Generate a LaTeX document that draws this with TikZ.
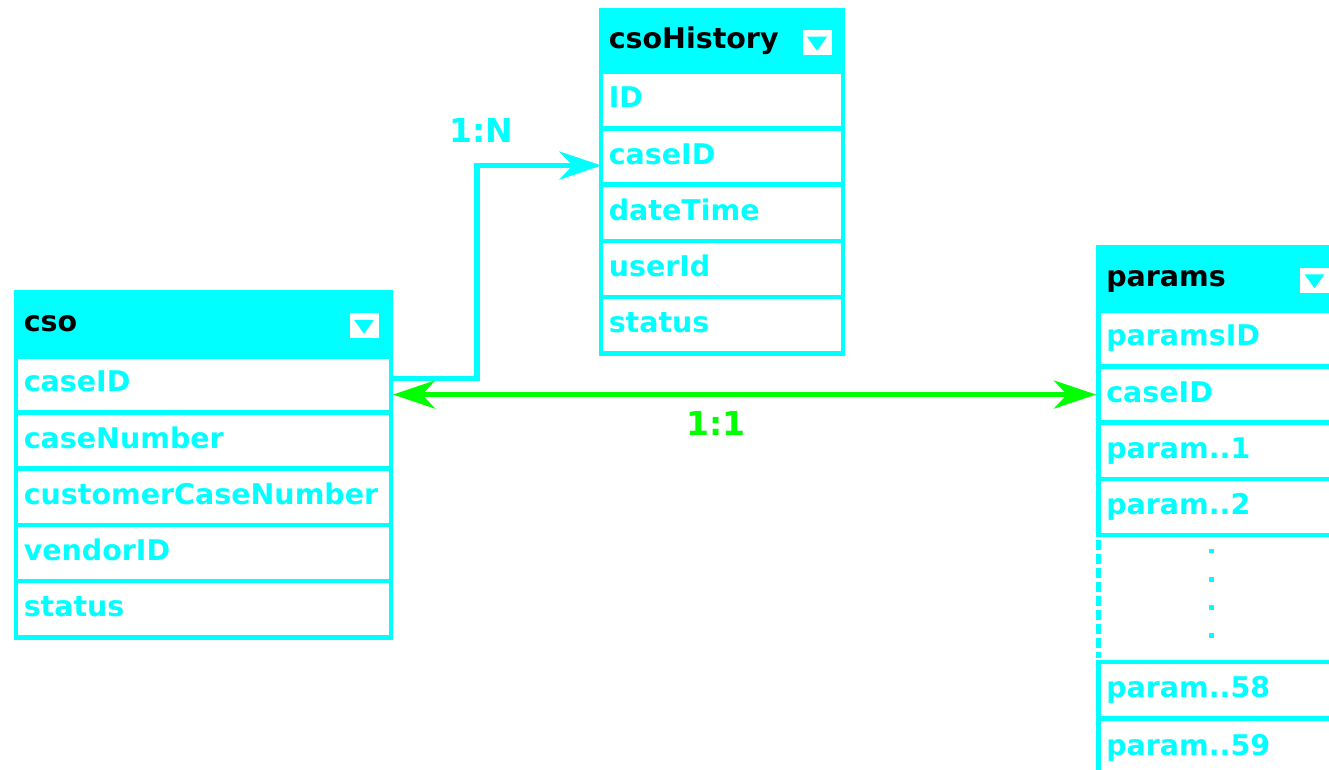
\documentclass[tikz,border=0pt]{standalone}
\usepackage{fontspec}
\setmainfont{DejaVu Sans}
\usetikzlibrary{arrows.meta,calc}
\definecolor{cy}{HTML}{00FFFF}
\definecolor{gr}{HTML}{00FF00}
\tikzset{
  tbl/.style={rectangle, draw=cy, line width=4.5pt, anchor=north west, inner xsep=8pt, inner ysep=0pt,
    align=left, text height=21pt, text depth=6pt, font=\fontsize{28.5}{32}\selectfont\bfseries},
  hdr/.style={tbl, fill=cy, text=black},
  fld/.style={tbl, fill=white, text=cy},
  icon/.style={rectangle, fill=white, draw=none, minimum width=29pt, minimum height=25pt, inner sep=0pt},
  relc/.style={draw=cy, line width=5.5pt},
  relg/.style={draw=gr, line width=5.5pt},
  rellab/.style={font=\fontsize{33}{38}\selectfont\bfseries, inner sep=0pt},
  bigtip/.tip={Stealth[length=42pt,width=28pt,inset=13pt]},
}
\newcommand{\tri}[1]{\fill[cy] ($(#1.center)+(-10,-6)$) -- ($(#1.center)+(10,-6)$) -- ($(#1.center)+(0,8)$) -- cycle;}
\begin{document}
\begin{tikzpicture}[x=1pt,y=-1pt]
\useasboundingbox (0,0) rectangle (1329,770);
\clip (0,0) rectangle (1329,770);
\fill[white] (0,0) rectangle (1329,770);

% ---- cso ----
\node[hdr, minimum width=375pt, minimum height=64pt, text width=359pt] (cso-h) at (13.5,290) {cso};
\node[fld, minimum width=375pt, minimum height=56.2pt, text width=359pt] (cso-caseID) at (13.5,354) {caseID};
\node[fld, minimum width=375pt, minimum height=56.2pt, text width=359pt] (cso-caseNumber) at (13.5,410.2) {caseNumber};
\node[fld, minimum width=375pt, minimum height=56.2pt, text width=359pt] (cso-cust) at (13.5,466.4) {customerCaseNumber};
\node[fld, minimum width=375pt, minimum height=56.2pt, text width=359pt] (cso-vendor) at (13.5,522.6) {vendorID};
\node[fld, minimum width=375pt, minimum height=56.2pt, text width=359pt] (cso-status) at (13.5,578.8) {status};
\node[icon] (cso-icon) at ($(cso-h.east)+(-29,1.5)$) {};
\tri{cso-icon}

% ---- csoHistory ----
\node[hdr, minimum width=242pt, minimum height=62pt, text width=226pt] (h-h) at (598.5,8) {csoHistory};
\node[fld, minimum width=242pt, minimum height=56.2pt, text width=226pt] (h-ID) at (598.5,70) {ID};
\node[fld, minimum width=242pt, minimum height=56.2pt, text width=226pt] (h-caseID) at (598.5,126.2) {caseID};
\node[fld, minimum width=242pt, minimum height=56.2pt, text width=226pt] (h-dateTime) at (598.5,182.4) {dateTime};
\node[fld, minimum width=242pt, minimum height=56.2pt, text width=226pt] (h-userId) at (598.5,238.6) {userId};
\node[fld, minimum width=242pt, minimum height=56.2pt, text width=226pt] (h-status) at (598.5,294.8) {status};
\node[icon] (h-icon) at ($(h-h.east)+(-28,1.5)$) {};
\tri{h-icon}

% ---- params ----
\node[hdr, minimum width=241pt, minimum height=63pt, text width=225pt] (p-h) at (1096,245) {params};
\node[fld, minimum width=241pt, minimum height=56.2pt, text width=225pt] (p-paramsID) at (1096,308) {paramsID};
\node[fld, minimum width=241pt, minimum height=56.2pt, text width=225pt] (p-caseID) at (1096,364.2) {caseID};
\node[fld, minimum width=241pt, minimum height=56.2pt, text width=225pt] (p-1) at (1096,420.4) {param..1};
\node[fld, minimum width=241pt, minimum height=56.2pt, text width=225pt] (p-2) at (1096,476.6) {param..2};
\node[fld, minimum width=241pt, minimum height=56.2pt, text width=225pt] (p-58) at (1096,659.8) {param..58};
\node[fld, minimum width=241pt, minimum height=60pt, text width=225pt] (p-59) at (1096,716) {param..59};
\coordinate (D1) at ($(p-2.south west)+(2.25,2.25)$);
\coordinate (D2) at ($(p-58.north west)+(2.25,-2.25)$);
\draw[cy, line width=4.5pt, dash pattern=on 10pt off 4pt] (D1) -- (D2);
\foreach \yy in {551,579.5,607.5,635.5} \fill[cy] (1209.3,\yy-2.3) rectangle +(4.6,4.6);
\node[icon] (p-icon) at ($(p-h.east)+(-27,1.5)$) {};
\tri{p-icon}

% ---- relations ----
\coordinate (A) at ($(cso-caseID.east)+(0,-6)$);
\coordinate (B) at ($(h-caseID.west)+(3,9)$);
\coordinate (K) at (477,0);
\draw[relc, -{bigtip}] (A) -- (A -| K) -- (K |- B) -- (B);
\node[rellab, text=cy] (lab1N) at (481,130) {1:N};

\coordinate (C) at (cso-caseID.east |- p-caseID.west);
\draw[relg, {bigtip}-{bigtip}] (C) -- (p-caseID.west);
\node[rellab, text=gr] (lab11) at (716,423) {1:1};
\end{tikzpicture}
\end{document}
